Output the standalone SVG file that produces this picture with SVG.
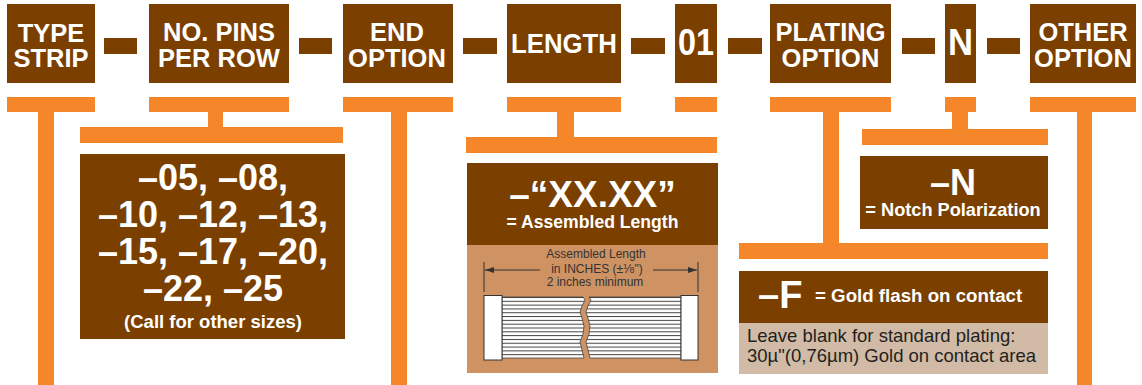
<svg xmlns="http://www.w3.org/2000/svg" width="1142" height="385" viewBox="0 0 1142 385">
<style>
.br{fill:#7B3F00}
.or{fill:#F5862A}
.lb{font-family:"Liberation Sans",Arial,sans-serif;font-weight:bold;fill:#fff;text-anchor:middle}
.t26{font-size:25.5px}
.big{font-size:36px}
.sm{font-size:18.2px}
.dim{font-family:"Liberation Sans",Arial,sans-serif;font-size:12px;fill:#333;text-anchor:middle}
.reg{font-family:"Liberation Sans",Arial,sans-serif;font-size:18.5px;fill:#231F20}
.ln{stroke:#333;stroke-width:1;fill:none}
</style>
<defs>
<marker id="ah" markerUnits="userSpaceOnUse" markerWidth="9" markerHeight="6" refX="9" refY="3" orient="auto">
<path d="M0,0 L9,3 L0,6 z" fill="#333"/>
</marker>
<pattern id="rib" patternUnits="userSpaceOnUse" x="0" y="297" width="10" height="3.8125">
<rect width="10" height="3.8125" fill="#fff"/>
<rect width="10" height="1" fill="#444"/>
</pattern>
</defs>

<g id="connectors">
<rect class="or" x="7" y="97" width="88" height="15"/>
<rect class="or" x="38" y="112" width="16" height="273"/>
<rect class="or" x="149" y="97" width="140" height="15"/>
<rect class="or" x="208" y="112" width="15" height="16"/>
<rect class="or" x="80" y="127" width="263" height="16"/>
<rect class="or" x="343" y="97" width="110" height="15"/>
<rect class="or" x="391" y="112" width="16" height="273"/>
<rect class="or" x="507" y="97" width="114" height="15"/>
<rect class="or" x="557" y="112" width="17" height="26"/>
<rect class="or" x="466" y="137" width="251" height="16"/>
<rect class="or" x="675" y="97" width="42" height="15"/>
<rect class="or" x="770" y="97" width="121" height="15"/>
<rect class="or" x="823" y="112" width="16" height="132"/>
<rect class="or" x="739" y="243" width="309" height="16"/>
<rect class="or" x="945" y="97" width="31" height="15"/>
<rect class="or" x="952" y="112" width="16" height="18"/>
<rect class="or" x="862" y="129" width="186" height="16"/>
<rect class="or" x="1030" y="97" width="106" height="15"/>
<rect class="or" x="1077" y="112" width="15" height="273"/>
</g>

<g id="dashes">
<rect class="br" x="104" y="38" width="33" height="16"/>
<rect class="br" x="299" y="38" width="33" height="16"/>
<rect class="br" x="463" y="38" width="34" height="16"/>
<rect class="br" x="631" y="38" width="34" height="16"/>
<rect class="br" x="728" y="38" width="34" height="16"/>
<rect class="br" x="902" y="38" width="33" height="16"/>
<rect class="br" x="987" y="38" width="33" height="16"/>
</g>

<g id="type-strip">
<rect class="br" x="7" y="4" width="88" height="79"/>
<text class="lb t26" x="51" y="41.5">TYPE</text>
<text class="lb t26" x="51" y="67">STRIP</text>
</g>
<g id="pins-per-row">
<rect class="br" x="149" y="4" width="140" height="79"/>
<text class="lb t26" x="219" y="41">NO. PINS</text>
<text class="lb t26" x="219" y="66.5">PER ROW</text>
</g>
<g id="end-option">
<rect class="br" x="343" y="4" width="110" height="79"/>
<text class="lb t26" x="397" y="41">END</text>
<text class="lb t26" x="397" y="66.5">OPTION</text>
</g>
<g id="length">
<rect class="br" x="507" y="4" width="114" height="79"/>
<text class="lb" x="564" y="53" font-size="28" textLength="106" lengthAdjust="spacingAndGlyphs">LENGTH</text>
</g>
<g id="code-01">
<rect class="br" x="675" y="4" width="42" height="79"/>
<text class="lb" x="696" y="55" font-size="37" textLength="36" lengthAdjust="spacingAndGlyphs">01</text>
</g>
<g id="plating-option">
<rect class="br" x="770" y="4" width="121" height="79"/>
<text class="lb t26" x="830.5" y="41">PLATING</text>
<text class="lb t26" x="830.5" y="66.5">OPTION</text>
</g>
<g id="code-n">
<rect class="br" x="945" y="4" width="31" height="79"/>
<text class="lb" x="960.5" y="55" font-size="37" textLength="25" lengthAdjust="spacingAndGlyphs">N</text>
</g>
<g id="other-option">
<rect class="br" x="1030" y="4" width="106" height="79"/>
<text class="lb t26" x="1083" y="41">OTHER</text>
<text class="lb t26" x="1083" y="66.5">OPTION</text>
</g>

<g id="pins-values">
<rect class="br" x="80" y="154" width="265" height="185"/>
<text class="lb big" x="213" y="190">–05, –08,</text>
<text class="lb big" x="213" y="227">–10, –12, –13,</text>
<text class="lb big" x="213" y="264">–15, –17, –20,</text>
<text class="lb big" x="213" y="301">–22, –25</text>
<text class="lb" x="213" y="328" font-size="18.5">(Call for other sizes)</text>
</g>

<g id="length-values">
<rect class="br" x="467" y="163" width="251" height="82"/>
<text class="lb" x="592.5" y="207" font-size="37">–“XX.XX”</text>
<text class="lb" x="592.5" y="228" font-size="17.6">= Assembled Length</text>
<rect x="467" y="245" width="251" height="128" fill="#CE9263"/>
<text class="dim" x="596" y="258">Assembled Length</text>
<text class="dim" x="597" y="273">in INCHES (±<tspan font-size="8" dy="-4">1</tspan><tspan dy="4">⁄</tspan><tspan font-size="9">8</tspan>")</text>
<text class="dim" x="595" y="286">2 inches minimum</text>
<line class="ln" x1="484" y1="262" x2="484" y2="292"/>
<line class="ln" x1="698" y1="262" x2="698" y2="292"/>
<line class="ln" x1="540" y1="270" x2="485" y2="270" marker-end="url(#ah)"/>
<line class="ln" x1="653" y1="270" x2="697" y2="270" marker-end="url(#ah)"/>
<polygon points="502,297 583,297 585,300 582,306 580,312 582,318 584,326 583,334 580,342 582,350 584,358 502,358" fill="url(#rib)" stroke="#444" stroke-width="0.8"/>
<polygon points="589,297 681,297 681,358 590,358 588,350 586,342 589,334 590,326 588,318 586,312 588,306 591,300" fill="url(#rib)" stroke="#444" stroke-width="0.8"/>
<rect x="484" y="295.5" width="18" height="64.5" fill="#fff" stroke="#333" stroke-width="1"/>
<rect x="681" y="295.5" width="17" height="64.5" fill="#fff" stroke="#333" stroke-width="1"/>
</g>

<g id="notch-values">
<rect class="br" x="860" y="156" width="188" height="73"/>
<text class="lb big" x="953" y="195">–N</text>
<text class="lb sm" x="953" y="216">= Notch Polarization</text>
</g>

<g id="plating-values">
<rect class="br" x="739" y="271" width="309" height="52"/>
<text class="lb" x="758" y="308" font-size="38" style="text-anchor:start">–F</text>
<text class="lb" x="815" y="302" font-size="18.7" style="text-anchor:start">= Gold flash on contact</text>
<rect x="739" y="323" width="309" height="51" fill="#D1BBA6"/>
<text class="reg" x="747" y="342">Leave blank for standard plating:</text>
<text class="reg" x="747" y="362">30µ"(0,76µm) Gold on contact area</text>
</g>
</svg>
